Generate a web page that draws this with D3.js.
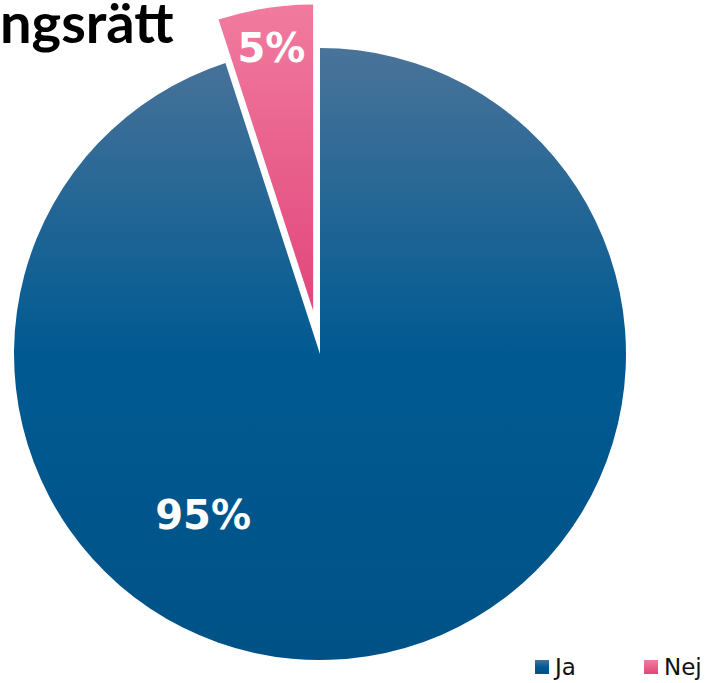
<!DOCTYPE html>
<html>
<head>
<meta charset="utf-8">
<script src="https://cdn.jsdelivr.net/npm/d3@7"></script>
<style>
  body { margin: 0; background: #fff; }
  svg { display: block; }
</style>
</head>
<body>
<script>
var categories = ["Ja", "Nej"];
var values = [95, 5];
var labels = ["95%", "5%"];
var title = "ngsrätt";

var width = 705, height = 683;
var cx = 320, cy = 354, radius = 306, explode = 44;

var svg = d3.select("body").append("svg")
    .attr("width", width).attr("height", height);

var defs = svg.append("defs");

var gBlue = defs.append("linearGradient").attr("id", "gradJa")
    .attr("x1", 0).attr("y1", 0).attr("x2", 0).attr("y2", 1);
gBlue.append("stop").attr("offset", "0%").attr("stop-color", "#4a7399");
gBlue.append("stop").attr("offset", "50%").attr("stop-color", "#005a92");
gBlue.append("stop").attr("offset", "100%").attr("stop-color", "#005286");

var gPink = defs.append("linearGradient").attr("id", "gradNej")
    .attr("x1", 0).attr("y1", 0).attr("x2", 0).attr("y2", 1);
gPink.append("stop").attr("offset", "0%").attr("stop-color", "#f17b9f");
gPink.append("stop").attr("offset", "100%").attr("stop-color", "#e1467b");

var fills = ["url(#gradJa)", "url(#gradNej)"];

var pie = d3.pie().sort(null).value(function (d) { return d; });
var arcs = pie(values);

var arc = d3.arc().innerRadius(0).outerRadius(radius);

var g = svg.append("g")
    .attr("transform", "translate(" + cx + "," + cy + ")");

var slices = g.selectAll(".slice")
    .data(arcs)
    .enter().append("g")
    .attr("class", "slice")
    .attr("transform", function (d, i) {
        if (i === 0) return null;
        var a = (d.startAngle + d.endAngle) / 2;
        return "translate(" + (Math.sin(a) * explode) + "," + (-Math.cos(a) * explode) + ")";
    });

slices.append("path")
    .attr("d", arc)
    .attr("fill", function (d, i) { return fills[i]; });

// labels: Excel puts the big slice label off the bisector
slices.append("text")
    .attr("transform", function (d, i) {
        var a, r;
        if (i === 0) {
            a = (d.startAngle + d.endAngle) / 2 + Math.PI / 4;
            r = radius * 0.65;
        } else {
            a = (d.startAngle + d.endAngle) / 2;
            r = radius * 0.87;
        }
        return "translate(" + (Math.sin(a) * r) + "," + (-Math.cos(a) * r) + ")";
    })
    .attr("text-anchor", "middle")
    .attr("dy", "0.36em")
    .attr("fill", "#fff")
    .style("font-family", "'DejaVu Sans', sans-serif")
    .style("font-weight", "bold")
    .style("font-size", "40px")
    .text(function (d, i) { return labels[i]; });

// title (clipped on the left in the original)
svg.append("text")
    .attr("x", 0)
    .attr("y", 43)
    .style("font-family", "Lato, sans-serif")
    .style("font-weight", "bold")
    .style("font-size", "56px")
    .attr("fill", "#000")
    .text(title);

// legend
var legend = svg.selectAll(".legend")
    .data(categories)
    .enter().append("g")
    .attr("class", "legend")
    .attr("transform", function (d, i) {
        return "translate(" + (535 + i * 109) + ",660)";
    });

legend.append("rect")
    .attr("width", 14).attr("height", 14)
    .attr("fill", function (d, i) { return fills[i]; });

legend.append("text")
    .attr("x", 20)
    .attr("y", 15)
    .style("font-family", "'DejaVu Sans', sans-serif")
    .style("font-size", "23px")
    .attr("fill", "#111")
    .text(function (d) { return d; });
</script>
</body>
</html>
